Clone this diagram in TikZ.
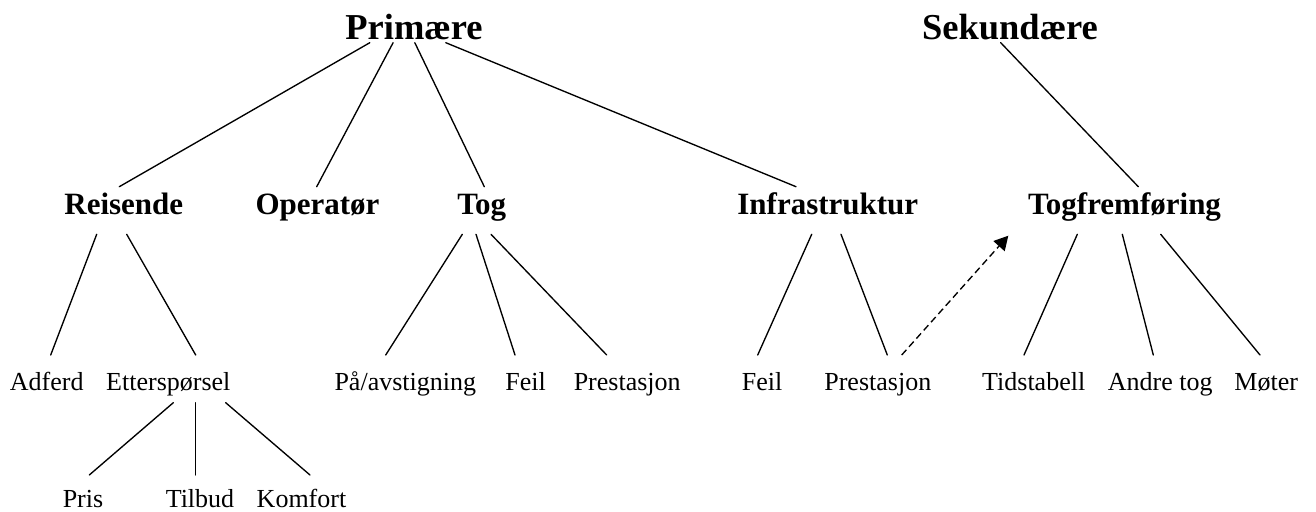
\documentclass[tikz,border=0pt]{standalone}
\usepackage{fontspec}
\setmainfont{Liberation Serif}
\usetikzlibrary{arrows.meta}

\begin{document}
\begin{tikzpicture}[x=1pt,y=-1pt,
  top/.style={anchor=base,inner sep=0pt,font=\fontsize{36.5}{40}\selectfont\bfseries},
  mid/.style={anchor=base,inner sep=0pt,font=\fontsize{31}{34}\selectfont\bfseries},
  leaf/.style={anchor=base,inner sep=0pt,font=\fontsize{26}{30}\selectfont},
  link/.style={line width=1.35pt,line cap=round},
  dasharrow/.style={line width=1.35pt,dash pattern=on 7pt off 4pt,
    -{Triangle[length=14pt,width=15pt]}}]
\useasboundingbox (0,0) rectangle (1316,511);

% headings
\node[top] (prim) at (414,39.3) {Primære};
\node[top] (sek)  at (1010,39.3) {Sekundære};

% second level
\node[mid] (reis)  at (123.8,214.3) {Reisende};
\node[mid] (oper)  at (317.5,214.3) {Operatør};
\node[mid] (tog)   at (481.7,214.3) {Tog};
\node[mid] (infra) at (827.8,214.3) {Infrastruktur};
\node[mid] (togfr) at (1124.5,214.3) {Togfremføring};

% third level
\node[leaf] (adferd) at (46.7,390) {Adferd};
\node[leaf] (etter)  at (168.3,390) {Etterspørsel};
\node[leaf] (paa)    at (405.3,390) {På/avstigning};
\node[leaf] (feilA)  at (525.7,390) {Feil};
\node[leaf] (prestA) at (627.2,390) {Prestasjon};
\node[leaf] (feilB)  at (762.2,390) {Feil};
\node[leaf] (prestB) at (877.8,390) {Prestasjon};
\node[leaf] (tids)   at (1033.7,390) {Tidstabell};
\node[leaf] (andre)  at (1160.3,390) {Andre tog};
\node[leaf] (moter)  at (1266.2,390) {Møter};

% fourth level
\node[leaf] (pris)    at (83,507.5) {Pris};
\node[leaf] (tilbud)  at (200,507.5) {Tilbud};
\node[leaf] (komfort) at (301.5,507.5) {Komfort};

% Primære
\draw[link] ([shift={(-44.2,3.4)}]prim.base) -- ([shift={(-4.5,-27.6)}]reis.base);
\draw[link] ([shift={(-20.9,3.4)}]prim.base) -- ([shift={(-0.8,-27.6)}]oper.base);
\draw[link] ([shift={(0.8,3.4)}]prim.base)   -- ([shift={(2.6,-27.6)}]tog.base);
\draw[link] ([shift={(31.8,3.4)}]prim.base)  -- ([shift={(-31.8,-27.6)}]infra.base);

% Sekundære
\draw[link] ([shift={(-9.3,3.4)}]sek.base) -- ([shift={(13.8,-27.6)}]togfr.base);

% Reisende
\draw[link] ([shift={(-27.1,20)}]reis.base) -- ([shift={(4,-35)}]adferd.base);
\draw[link] ([shift={(2.9,20)}]reis.base)   -- ([shift={(27.4,-35)}]etter.base);

% Etterspørsel
\draw[link] ([shift={(5,12.7)}]etter.base)    -- ([shift={(6.3,-32.5)}]pris.base);
\draw[link] ([shift={(27.4,12.7)}]etter.base) -- ([shift={(-4.3,-32.5)}]tilbud.base);
\draw[link] ([shift={(57.4,12.7)}]etter.base) -- ([shift={(8.5,-32.5)}]komfort.base);

% Tog
\draw[link] ([shift={(-19.4,20)}]tog.base) -- ([shift={(-19.6,-35)}]paa.base);
\draw[link] ([shift={(-5.7,20)}]tog.base)  -- ([shift={(-10.7,-35)}]feilA.base);
\draw[link] ([shift={(9.3,20)}]tog.base)   -- ([shift={(-20.5,-35)}]prestA.base);

% Infrastruktur
\draw[link] ([shift={(-16.1,20)}]infra.base) -- ([shift={(-4.5,-35)}]feilB.base);
\draw[link] ([shift={(13.2,20)}]infra.base)  -- ([shift={(9.5,-35)}]prestB.base);

% Togfremføring
\draw[link] ([shift={(-47.2,20)}]togfr.base) -- ([shift={(-9.7,-35)}]tids.base);
\draw[link] ([shift={(-2.2,20)}]togfr.base)  -- ([shift={(-7,-35)}]andre.base);
\draw[link] ([shift={(36.2,20)}]togfr.base)  -- ([shift={(-6.2,-35)}]moter.base);

% infrastructure performance feeds train running
\draw[dasharrow] ([shift={(23.9,-35)}]prestB.base) -- ([shift={(-116.2,21.4)}]togfr.base);
\end{tikzpicture}
\end{document}
